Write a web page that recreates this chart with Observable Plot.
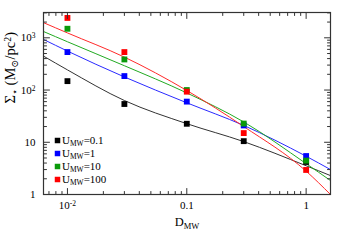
<!DOCTYPE html>
<html>
<head>
<meta charset="utf-8">
<script src="https://cdn.jsdelivr.net/npm/d3@7"></script>
<script src="https://cdn.jsdelivr.net/npm/@observablehq/plot@0.6"></script>
<style>
  html, body { margin: 0; padding: 0; background: #fff; }
  #chart { width: 343px; height: 242px; }
</style>
</head>
<body>
<div id="chart"></div>
<script>
// ---- data ----
const dmw = [0.01, 0.03, 0.1, 0.3, 1];
const sigU01 = [148, 54, 22.6, 10.5, 4.2];
const sigU1 = [533, 185, 60, 21, 5.45];
const sigU10 = [1490, 385, 100, 22.8, 4.45];
const sigU100 = [2400, 533, 93, 15, 2.95];

const fitD = [0.0063, 0.01, 0.03, 0.1, 0.3, 1, 1.6];
const fitU01 = [446, 243, 63, 22.7, 10.3, 3.55, 2.3];
const fitU1 = [930, 557, 178, 57, 21, 5.4, 3.0];
const fitU10 = [1320, 840, 292, 88, 24.5, 3.9, 1.85];
const fitU100 = [1950, 1240, 427, 98, 20, 2.8, 1.0];

const seriesNames = ["U_{MW}=0.1", "U_{MW}=1", "U_{MW}=10", "U_{MW}=100"];
const seriesColors = ["#000000", "#0000ff", "#0a9a0a", "#ff0000"];
const lineColors = ["#333333", "#2a2aff", "#22aa22", "#ff2a2a"];

const xMajor = [0.01, 0.1, 1];
const xMajorLabels = ["10^{-2}", "0.1", "1"];
const xMinor = [0.007, 0.008, 0.009, 0.02, 0.03, 0.04, 0.05, 0.06, 0.07, 0.08, 0.09,
                0.2, 0.3, 0.4, 0.5, 0.6, 0.7, 0.8, 0.9];
const yMajor = [1, 10, 100, 1000];
const yMajorLabels = ["1", "10", "10^{2}", "10^{3}"];
const yMinor = [2, 3, 4, 5, 6, 7, 8, 9, 20, 30, 40, 50, 60, 70, 80, 90,
                200, 300, 400, 500, 600, 700, 800, 900, 2000, 3000];

const xLabel = "D_{MW}";
const yLabel = "Σ_{⋆} (M_{⊙}/pc^{2})";

// ---- build ----
const pointSets = [sigU01, sigU1, sigU10, sigU100];
const fitSets = [fitU01, fitU1, fitU10, fitU100];

const tickShape = {draw(ctx, l) { ctx.moveTo(0, 0); ctx.lineTo(0, -l); }};
const axisStroke = "#333";
function ticksX(values, len, side) {
  return Plot.vector(values, {x: d => d, frameAnchor: side, anchor: "start", length: len,
    rotate: side === "bottom" ? 0 : 180, shape: tickShape, stroke: axisStroke, strokeWidth: 1});
}
function ticksY(values, len, side) {
  return Plot.vector(values, {y: d => d, frameAnchor: side, anchor: "start", length: len,
    rotate: side === "left" ? 90 : 270, shape: tickShape, stroke: axisStroke, strokeWidth: 1});
}

const marks = [];
// fit lines
fitSets.forEach((f, k) => {
  marks.push(Plot.line(fitD, {x: d => d, y: (d, i) => f[i], stroke: lineColors[k],
    strokeWidth: 1, curve: "monotone-x", clip: true}));
});
// squares
pointSets.forEach((p, k) => {
  marks.push(Plot.dot(dmw, {x: d => d, y: (d, i) => p[i], symbol: "square", r: 3.3,
    fill: seriesColors[k], stroke: "none"}));
});
// frame & ticks
marks.push(Plot.frame({stroke: axisStroke, strokeWidth: 1.2}));
for (const side of ["bottom", "top"]) {
  marks.push(ticksX(xMajor, 6, side), ticksX(xMinor, 3, side));
}
for (const side of ["left", "right"]) {
  marks.push(ticksY(yMajor, 6, side), ticksY(yMinor, 3, side));
}
// tick labels
marks.push(Plot.text(xMajor, {x: d => d, frameAnchor: "bottom", dy: 11,
  text: (d, i) => xMajorLabels[i], lineAnchor: "middle", fontSize: 11}));
marks.push(Plot.text(yMajor, {y: d => d, frameAnchor: "left", dx: -8, textAnchor: "end",
  text: (d, i) => yMajorLabels[i], lineAnchor: "middle", fontSize: 11}));
// axis titles
marks.push(Plot.text([xLabel], {frameAnchor: "bottom", dy: 27, fontSize: 12.5, lineAnchor: "middle"}));
marks.push(Plot.text([yLabel], {frameAnchor: "left", dx: -33, rotate: -90, fontSize: 14.5, lineAnchor: "middle"}));
// legend
seriesNames.forEach((name, k) => {
  const dy = -54 + 13 * k;
  marks.push(Plot.dot([name], {frameAnchor: "bottom-left", dx: 14, dy, symbol: "square", r: 3.1,
    fill: seriesColors[k], stroke: "none"}));
  marks.push(Plot.text([name], {frameAnchor: "bottom-left", dx: 18.5, dy, textAnchor: "start",
    lineAnchor: "middle", fontSize: 11}));
});

const chart = Plot.plot({
  width: 343, height: 242,
  marginLeft: 43, marginRight: 13, marginTop: 12, marginBottom: 48,
  style: {fontFamily: "'Liberation Serif', 'DejaVu Serif', serif", fontSize: "11px",
    background: "#fff", color: "#000", overflow: "visible"},
  x: {type: "log", domain: [0.0063, 1.6], axis: null},
  y: {type: "log", domain: [1, 3050], axis: null},
  marks
});

// rich text: _{...} subscript, ^{...} superscript
d3.select(chart).selectAll("text").each(function () {
  const s = this.textContent;
  if (!/[_^]\{/.test(s)) return;
  while (this.firstChild) this.removeChild(this.firstChild);
  const re = /([_^])\{([^}]*)\}|([^_^]+)/g;
  let m;
  while ((m = re.exec(s))) {
    const t = document.createElementNS("http://www.w3.org/2000/svg", "tspan");
    if (m[1]) {
      t.textContent = m[2];
      t.setAttribute("font-size", "68%");
      t.setAttribute("baseline-shift", m[1] === "_" ? "-28%" : "45%");
    } else {
      t.textContent = m[3];
    }
    this.appendChild(t);
  }
});

document.getElementById("chart").appendChild(chart);
</script>
</body>
</html>
